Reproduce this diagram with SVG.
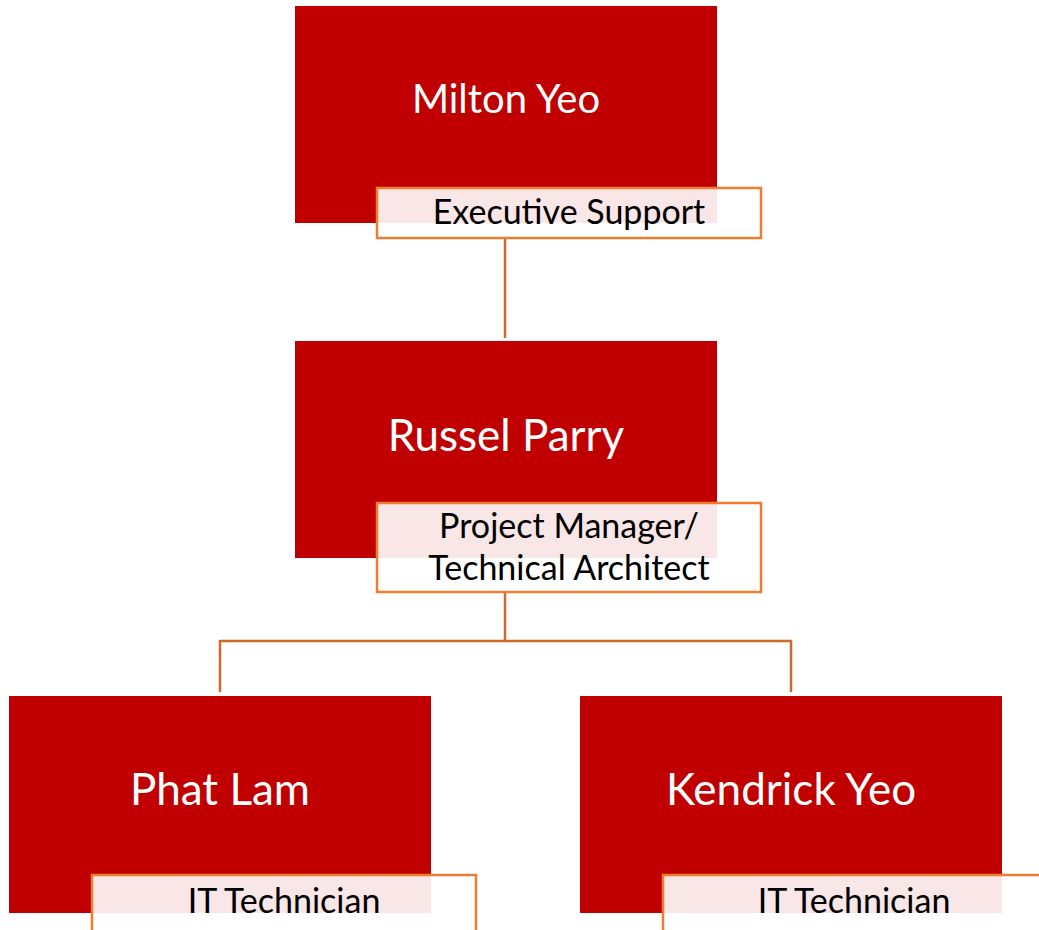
<svg xmlns="http://www.w3.org/2000/svg" width="1039" height="930" viewBox="0 0 1039 930">
  <style>
    .card { fill: #C00000; }
    .tag { fill: #FFFFFF; fill-opacity: 0.9; stroke: #ED7D31; stroke-width: 2.5; }
    .name { font-family: Lato, "Liberation Sans", sans-serif; font-size: 44px; fill: #FFFFFF; text-anchor: middle; }
    .name.top { font-size: 40px; }
    .role { font-family: Lato, "Liberation Sans", sans-serif; font-size: 34px; fill: #000000; text-anchor: middle; }
    .link { fill: none; stroke: #D06A2C; stroke-width: 2.5; }
  </style>
  <rect width="1039" height="930" fill="#FFFFFF"/>

  <g id="connectors">
    <line class="link" x1="505" y1="238" x2="505" y2="338"/>
    <polyline class="link" points="505,592 505,641 220,641 220,692"/>
    <polyline class="link" points="505,641 791,641 791,692"/>
  </g>

  <g id="milton-yeo">
    <rect class="card" x="295" y="6" width="422" height="217"/>
    <text class="name top" x="506" y="113">Milton Yeo</text>
    <rect class="tag" x="377" y="188" width="384" height="50"/>
    <text class="role" x="569" y="224">Executive Support</text>
  </g>

  <g id="russel-parry">
    <rect class="card" x="295" y="341" width="422" height="217"/>
    <text class="name" x="506" y="451">Russel Parry</text>
    <rect class="tag" x="377" y="503" width="384" height="89"/>
    <text class="role" x="569" y="538">Project Manager/</text>
    <text class="role" x="569" y="580">Technical Architect</text>
  </g>

  <g id="phat-lam">
    <rect class="card" x="9" y="696" width="422" height="217"/>
    <text class="name" x="220" y="805">Phat Lam</text>
    <rect class="tag" x="92" y="875" width="384" height="60"/>
    <text class="role" x="284" y="913">IT Technician</text>
  </g>

  <g id="kendrick-yeo">
    <rect class="card" x="580" y="696" width="422" height="217"/>
    <text class="name" x="791" y="805">Kendrick Yeo</text>
    <rect class="tag" x="663" y="875" width="384" height="60"/>
    <text class="role" x="854" y="913">IT Technician</text>
  </g>
</svg>
